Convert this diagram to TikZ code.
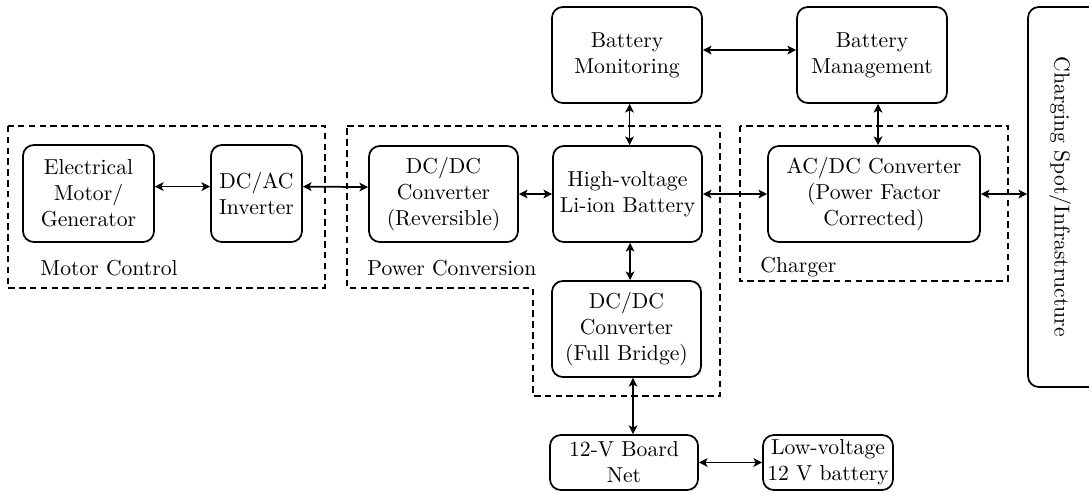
\documentclass[tikz,border=0pt]{standalone}
\usetikzlibrary{arrows.meta}
\tikzset{
  box/.style={draw, thick, rounded corners=5pt, inner sep=0pt, align=center},
  sz/.style 2 args={minimum width=#1*0.462pt, minimum height=#2*0.462pt},
  grp/.style={draw, semithick, dashed, dash pattern=on 3pt off 2pt},
  arr/.style={thick, {Stealth[length=4pt,width=4pt,inset=1pt]}-{Stealth[length=4pt,width=4pt,inset=1pt]}},
  glabel/.style={anchor=west, inner sep=0pt}
}
\begin{document}
\begin{tikzpicture}[x=0.462pt,y=-0.462pt]
\useasboundingbox (0,0) rectangle (1089,496);
% group frames
\draw[grp] (8,126) rectangle (325,288);
\draw[grp] (347,126) -- (720,126) -- (720,396) -- (533,396) -- (533,288) -- (347,288) -- cycle;
\draw[grp] (740,126) rectangle (1008,281);
\node[glabel] (lmc) at (40,268) {Motor Control};
\node[glabel] (lpc) at (367,268) {Power Conversion};
\node[glabel] (lch) at (760,267) {Charger};
% boxes
\node[box, sz={131}{97}] (motor) at (88.5,193.5) {Electrical\\Motor/\\Generator};
\node[box, sz={91}{97}] (inv) at (256.5,193.5) {DC/AC\\Inverter};
\node[box, sz={149}{96}] (rev) at (443.5,194) {DC/DC\\Converter\\(Reversible)};
\node[box, sz={149}{96}] (hv) at (627.5,194) {High-voltage\\Li-ion Battery};
\node[box, sz={149}{96}] (fb) at (626.5,329) {DC/DC\\Converter\\(Full Bridge)};
\node[box, sz={212}{96}] (acdc) at (874,194) {AC/DC Converter\\(Power Factor\\Corrected)};
\node[box, sz={150}{96}] (bmon) at (627,55) {Battery\\Monitoring};
\node[box, sz={150}{96}] (bmg) at (872,55) {Battery\\Management};
\node[box, sz={148}{55}] (net) at (624,462.5) {12-V Board\\Net};
\node[box, sz={130}{55}] (lv) at (828,462.5) {Low-voltage\\12 V battery};
\node[box, sz={92}{380}] (cs) at (1074,197) {};
\node[rotate=-90] (cst) at (1060,197) {Charging Spot/Infrastructure};
% connectors
\draw[arr] ([yshift=3.2pt]motor.east) -- ([yshift=3.2pt]inv.west);
\draw[arr] ([yshift=3.2pt]inv.east) -- ([yshift=3.2pt]rev.west);
\draw[arr] (rev.east) -- (hv.west);
\draw[arr] (hv.east) -- (acdc.west);
\draw[arr] (acdc.east) -- (cs.west |- acdc.east);
\draw[arr] ([xshift=1.2pt]bmon.south) -- ([xshift=1.2pt]bmon.south |- hv.north);
\draw[arr] ([xshift=1.2pt]hv.south) -- ([xshift=1.2pt]hv.south |- fb.north);
\draw[arr] ([xshift=3pt]fb.south) -- ([xshift=3pt]fb.south |- net.north);
\draw[arr] ([yshift=2.3pt]bmon.east) -- ([yshift=2.3pt]bmg.west);
\draw[arr] ([xshift=2.8pt]bmg.south) -- ([xshift=2.8pt]bmg.south |- acdc.north);
\draw[arr] (net.east) -- (lv.west);
\end{tikzpicture}
\end{document}
